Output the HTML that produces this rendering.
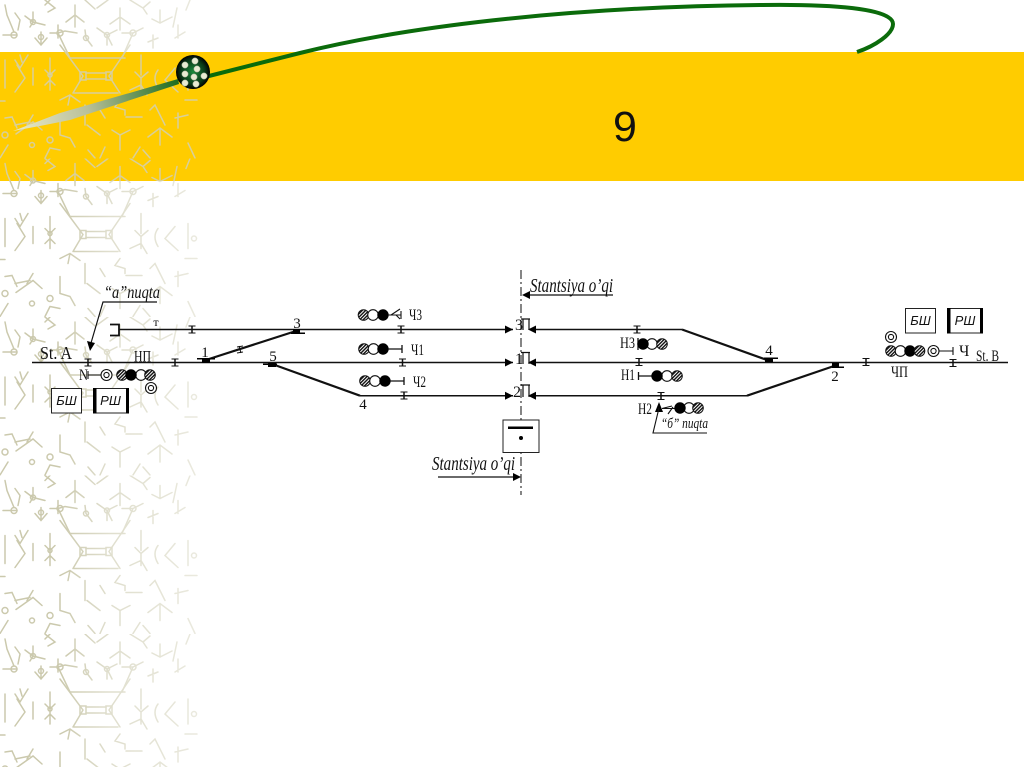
<!DOCTYPE html>
<html><head><meta charset="utf-8"><style>
html,body{margin:0;padding:0;background:#fff}
svg{display:block}
text{font-family:"Liberation Serif",serif;fill:#111}
</style></head><body>
<svg width="1024" height="767" viewBox="0 0 1024 767" xmlns="http://www.w3.org/2000/svg">
<defs>
<g id="tile" fill="none" stroke-width="1.5" stroke-linecap="round">
<path d="M5 5L7 15L14 32M3 35H17M15 13L20 20L18 30M25 16L33 22L45 25M33 12V22L30 27M41 32V45M35 38L41 45L47 38M45 0L55 8L48 12M50 0L45 5M85 0L95 9M97 8L108 0M75 5V27M66 22L75 15L84 22M120 8V30M110 24L120 17L130 24M130 0L143 8L147 14M143 8L150 2M160 10V22M152 19L160 23L172 17M177 8L173 27M190 0L186 10M50 33H58L65 31L77 33M58 25V38M58 33L70 58M85 30L86 38L92 46M97 28L107 35L117 30M107 35V45M112 45L107 35M122 33H133L143 28M133 33L122 58M153 35V48M148 42L158 38M178 25V38M175 38L185 32"/>
<path d="M5 60V88M20 55L22 62M15 60L20 68L28 55M17 65L25 78L15 92M33 68V85M50 58V90M45 70L50 75L55 70M45 85L50 80L55 85M70 58H125M74 93H118M60 45L83 76L73 93M130 45L109 76L120 93M86 73H106M86 79H106M141 55V75M135 72L141 78L148 72M130 90L141 85L147 95M141 78V90M158 70Q152 78 158 88M175 68L165 80L178 92M188 65V90M0 101H5M185 100H197"/>
<path d="M60 100L70 95L80 102M70 95L68 105M85 105V125M100 110L105 118M120 100L115 107L125 110V115M126 117H142M150 110L155 105L165 125M178 113V128M175 118L188 115M5 118L12 117L17 128M15 125L30 122M33 115L27 125M16 134L33 122L42 130M60 118V135L70 138L75 147M87 125L100 135M112 130L120 135L130 130M120 135V150M148 137L160 128L172 137M160 128V145M8 145L0 158M50 148L60 150M50 148L45 158M88 150L95 158M105 147L100 158M140 147L133 158M143 150L150 158M188 143L195 158"/>
<circle cx="14" cy="35" r="3"/><circle cx="33" cy="22" r="2.500"/><circle cx="41" cy="37" r="2.500"/><circle cx="60" cy="33" r="3"/><circle cx="86" cy="38" r="2.500"/><circle cx="107" cy="35" r="2.500"/><circle cx="133" cy="33" r="3"/>
<rect x="80" y="72" width="6" height="8"/><rect x="106" y="72" width="6" height="8"/><circle cx="194" cy="80" r="2.500"/><circle cx="50" cy="75" r="2"/><circle cx="5" cy="135" r="3"/><circle cx="50" cy="140" r="3"/><circle cx="32" cy="145" r="2.500"/>
</g>
<pattern id="pWhite" patternUnits="userSpaceOnUse" width="198" height="158.500"><use href="#tile" stroke="#cbc9ad"/></pattern>
<pattern id="pBand" patternUnits="userSpaceOnUse" width="198" height="158.500"><use href="#tile" stroke="#d8cf9c"/></pattern>
<linearGradient id="fade" x1="0" x2="1" y1="0" y2="0"><stop offset="0" stop-color="#fff"/><stop offset=".3" stop-color="#fff"/><stop offset=".55" stop-color="#999"/><stop offset="1" stop-color="#666"/></linearGradient>
<mask id="m" maskUnits="userSpaceOnUse" x="0" y="0" width="198" height="767"><rect x="0" y="0" width="198" height="767" fill="url(#fade)"/></mask>
<linearGradient id="tail" gradientUnits="userSpaceOnUse" x1="13" y1="131" x2="178" y2="80"><stop offset="0" stop-color="#ecebc8"/><stop offset=".45" stop-color="#b9c09a"/><stop offset="1" stop-color="#1f6d1f"/></linearGradient>
<radialGradient id="ball"><stop offset="0" stop-color="#1c8a3c"/><stop offset=".7" stop-color="#0a3a18"/><stop offset="1" stop-color="#000"/></radialGradient>
<pattern id="hatch" patternUnits="userSpaceOnUse" width="2.400" height="2.400" patternTransform="rotate(-45)"><rect width="2.400" height="2.400" fill="#fff"/><rect width="2.400" height="1.400" fill="#111"/></pattern>
<g id="iso" stroke="#111" stroke-width="1.100" fill="none"><path d="M-3.500-3.500H3.500M-3.500 3.500H3.500"/><path d="M0-3.500V3.500" stroke-width="1.500"/></g>
<g id="h"><circle r="5.300" fill="url(#hatch)" stroke="#111" stroke-width="1"/></g>
<g id="w"><circle r="5.300" fill="#fff" stroke="#111" stroke-width="1.100"/></g>
<g id="b"><circle r="5.700" fill="#000"/></g>
<g id="r"><circle r="5.500" fill="#fff" stroke="#111" stroke-width="1.100"/><circle r="2.600" fill="#fff" stroke="#111" stroke-width="1.100"/></g>
</defs>

<rect x="0" y="0" width="198" height="767" fill="url(#pWhite)" mask="url(#m)"/>
<rect x="0" y="52" width="1024" height="129" fill="#ffcc00"/>
<rect x="0" y="52" width="198" height="129" fill="url(#pBand)"/>

<path d="M205 77L300 53C400 28 560 7 760 5C830 4 893 8 893 24C893 34 875 46 857 52" fill="none" stroke="#0b6b0b" stroke-width="4"/>
<polygon points="13,131 60,113 178,79 179,84 70,120 45,125" fill="url(#tail)"/>
<circle cx="193" cy="72" r="17" fill="url(#ball)"/>
<g fill="#e8ead2" stroke="#8a9a80" stroke-width=".5"><circle cx="185" cy="65" r="3.200"/><circle cx="195" cy="61" r="3.200"/><circle cx="197" cy="69" r="3.200"/><circle cx="185" cy="74" r="3.200"/><circle cx="194" cy="77" r="3.200"/><circle cx="204" cy="76" r="3.200"/><circle cx="196" cy="84" r="3.200"/><circle cx="185" cy="83" r="3.200"/></g>

<text x="625" y="141" font-size="43" text-anchor="middle" style="font-family:'Liberation Sans',sans-serif">9</text>

<path d="M521 270V495" stroke="#444" stroke-width="1.300" stroke-dasharray="9 3 2 3" fill="none"/>

<g fill="none" stroke="#111" stroke-width="1.500">
<path d="M32 362.500H513M533 362.500H1008"/>
<path d="M110 324.500H119V335.500H110" stroke-width="1.800"/>
<path d="M119 329.500H513M533 329.500H682"/>
<path d="M360 395.700H513M533 395.700H747"/>
</g>
<g fill="none" stroke="#111" stroke-width="2.200">
<path d="M209 359L296 331"/>
<path d="M272 364L360 395.700"/>
<path d="M682 329.500L767 360"/>
<path d="M747 395.700L834 366"/>
</g>

<g fill="#000">
<rect x="202" y="359" width="8" height="4"/><rect x="197" y="358" width="18" height="1.500"/>
<rect x="293" y="329" width="7" height="4"/><rect x="291" y="332.500" width="14" height="1.500"/>
<rect x="268" y="363" width="8" height="4"/><rect x="263" y="363.500" width="14" height="1.500"/>
<rect x="765" y="358" width="8" height="4"/><rect x="764" y="357.500" width="14" height="1.500"/>
<rect x="832" y="363" width="7" height="4"/><rect x="832" y="366.500" width="12" height="1.500"/>
</g>

<use href="#iso" x="192" y="329.500"/><use href="#iso" x="88" y="362.500"/><use href="#iso" x="175" y="362.500"/>
<use href="#iso" x="401" y="329.500"/><use href="#iso" x="402.500" y="362.500"/><use href="#iso" x="404" y="395.500"/>
<use href="#iso" x="637" y="329.500"/><use href="#iso" x="639" y="362"/><use href="#iso" x="661" y="396"/>
<use href="#iso" x="866" y="362"/><use href="#iso" x="953" y="363"/>
<path d="M237 347L243 346M237 353L243 352M239 346L241 353" stroke="#111" stroke-width="1.100" fill="none"/>

<g fill="#000">
<polygon points="513,329.500 505,325.500 505,333.500"/><polygon points="513,362.500 505,358.500 505,366.500"/><polygon points="513,395.700 505,391.700 505,399.700"/>
<polygon points="528,329.500 536,325.500 536,333.500"/><polygon points="528,362.500 536,358.500 536,366.500"/><polygon points="528,395.700 536,391.700 536,399.700"/>
</g>
<g fill="none" stroke="#111" stroke-width="1.200"><path d="M521 319H530M523 319V330M529 319V330"/><path d="M521 352.500H530M523 352.500V364M529 352.500V364"/><path d="M521 385H530M523 385V397M529 385V397"/></g>

<path d="M88 375H103M88 371V379" stroke="#111" stroke-width="1.100" fill="none"/>
<use href="#r" x="106.500" y="375"/><use href="#h" x="122" y="375"/><use href="#w" x="141" y="375"/><use href="#b" x="131" y="375"/><use href="#h" x="150" y="375"/><use href="#r" x="151" y="388"/>

<use href="#h" x="363.500" y="315"/><use href="#w" x="373" y="315"/><use href="#b" x="383" y="315"/>
<path d="M388 315H401M401 311V319M391 315L400 309M396 315L400 319" stroke="#111" stroke-width="1.100" fill="none"/>
<use href="#h" x="364" y="349"/><use href="#w" x="373.500" y="349"/><use href="#b" x="383" y="349"/>
<path d="M388 349H402M402 345V353" stroke="#111" stroke-width="1.300" fill="none"/>
<use href="#h" x="365" y="381"/><use href="#w" x="375" y="381"/><use href="#b" x="385" y="381"/>
<path d="M390 381H404M404 377V385" stroke="#111" stroke-width="1.300" fill="none"/>

<path d="M638 338V350" stroke="#111" stroke-width="1.300"/>
<use href="#w" x="652" y="344"/><use href="#b" x="643" y="344"/><use href="#h" x="662" y="344"/>
<path d="M638.500 372V380M638.500 376H652" stroke="#111" stroke-width="1.300" fill="none"/>
<use href="#w" x="667" y="376"/><use href="#b" x="657" y="376"/><use href="#h" x="677" y="376"/>
<path d="M662 408.500H676M662 408.500L672 406M668 414L673 407" stroke="#111" stroke-width="1.100" fill="none"/>
<use href="#w" x="689" y="408"/><use href="#b" x="680" y="408"/><use href="#h" x="698" y="408"/>
<polygon points="659,402 655,412 663,412" fill="#000"/>
<path d="M659 408L653 433H707" stroke="#111" stroke-width="1.100" fill="none"/>

<use href="#r" x="891" y="337"/><use href="#h" x="891" y="351"/><use href="#w" x="900.500" y="351"/><use href="#b" x="910" y="351"/><use href="#h" x="919.500" y="351"/><use href="#r" x="933.500" y="351"/>
<path d="M939 351H953M953 347V355" stroke="#111" stroke-width="1.100" fill="none"/>

<g fill="#fff" stroke="#222" stroke-width="1">
<rect x="51.500" y="388.500" width="30" height="24.500"/><rect x="93.500" y="388.500" width="35" height="24.500"/>
<rect x="905.500" y="308.500" width="30" height="24.500"/><rect x="947.500" y="308.500" width="35" height="24.500"/>
<rect x="503" y="420" width="36" height="32.500"/>
</g>
<g fill="#000"><rect x="93" y="388" width="3.500" height="25.500"/><rect x="126" y="388" width="3" height="25.500"/><rect x="947" y="308" width="3.500" height="25.500"/><rect x="980" y="308" width="3" height="25.500"/>
<rect x="508" y="426.500" width="25" height="2.500"/><circle cx="521" cy="438" r="2"/></g>
<g font-size="13">
<text x="66.500" y="405" text-anchor="middle" style="font-family:'Liberation Sans',sans-serif;font-style:italic">БШ</text>
<text x="110.500" y="405" text-anchor="middle" style="font-family:'Liberation Sans',sans-serif;font-style:italic">РШ</text>
<text x="920.500" y="325" text-anchor="middle" style="font-family:'Liberation Sans',sans-serif;font-style:italic">БШ</text>
<text x="965" y="325" text-anchor="middle" style="font-family:'Liberation Sans',sans-serif;font-style:italic">РШ</text>
</g>

<path d="M157 302H103L91 343" stroke="#111" stroke-width="1.200" fill="none"/>
<polygon points="90,351 87,341 95,343" fill="#000"/>
<path d="M613 295H528M438 477H514" stroke="#111" stroke-width="1.200" fill="none"/>
<polygon points="522,295 530,291 530,299" fill="#000"/>
<polygon points="521,477 513,473 513,481" fill="#000"/>

<g font-style="italic">
<text x="104" y="298" font-size="18" textLength="56" lengthAdjust="spacingAndGlyphs">“a”nuqta</text>
<text x="530" y="292" font-size="20" textLength="83" lengthAdjust="spacingAndGlyphs">Stantsiya o’qi</text>
<text x="432" y="470" font-size="20" textLength="83" lengthAdjust="spacingAndGlyphs">Stantsiya o’qi</text>
<text x="661" y="428" font-size="15" textLength="47" lengthAdjust="spacingAndGlyphs">“б” nuqta</text>
</g>
<text x="40" y="359" font-size="18" textLength="32" lengthAdjust="spacingAndGlyphs">St. A</text>
<text x="976" y="361" font-size="16" textLength="23" lengthAdjust="spacingAndGlyphs">St. B</text>
<g font-size="16">
<text x="134" y="361.500" textLength="17" lengthAdjust="spacingAndGlyphs">НП</text>
<text x="79" y="380" textLength="9" lengthAdjust="spacingAndGlyphs">N</text>
<text x="409" y="320" textLength="13" lengthAdjust="spacingAndGlyphs">Ч3</text>
<text x="411" y="355" textLength="13" lengthAdjust="spacingAndGlyphs">Ч1</text>
<text x="413" y="387" textLength="13" lengthAdjust="spacingAndGlyphs">Ч2</text>
<text x="620" y="348" textLength="15" lengthAdjust="spacingAndGlyphs">Н3</text>
<text x="621" y="380" textLength="14" lengthAdjust="spacingAndGlyphs">Н1</text>
<text x="638" y="414" textLength="14" lengthAdjust="spacingAndGlyphs">Н2</text>
<text x="959" y="356">Ч</text>
<text x="891" y="377" textLength="17" lengthAdjust="spacingAndGlyphs">ЧП</text>
<text x="515" y="330">3</text><text x="515" y="364">1</text><text x="513" y="397">2</text>
</g>
<g font-size="15" text-anchor="middle">
<text x="205" y="357">1</text><text x="297" y="328">3</text><text x="273" y="361">5</text>
<text x="363" y="409">4</text><text x="769" y="355">4</text><text x="835" y="381">2</text>
<text x="156" y="326" font-size="12">т</text>
</g>
</svg>
</body></html>
